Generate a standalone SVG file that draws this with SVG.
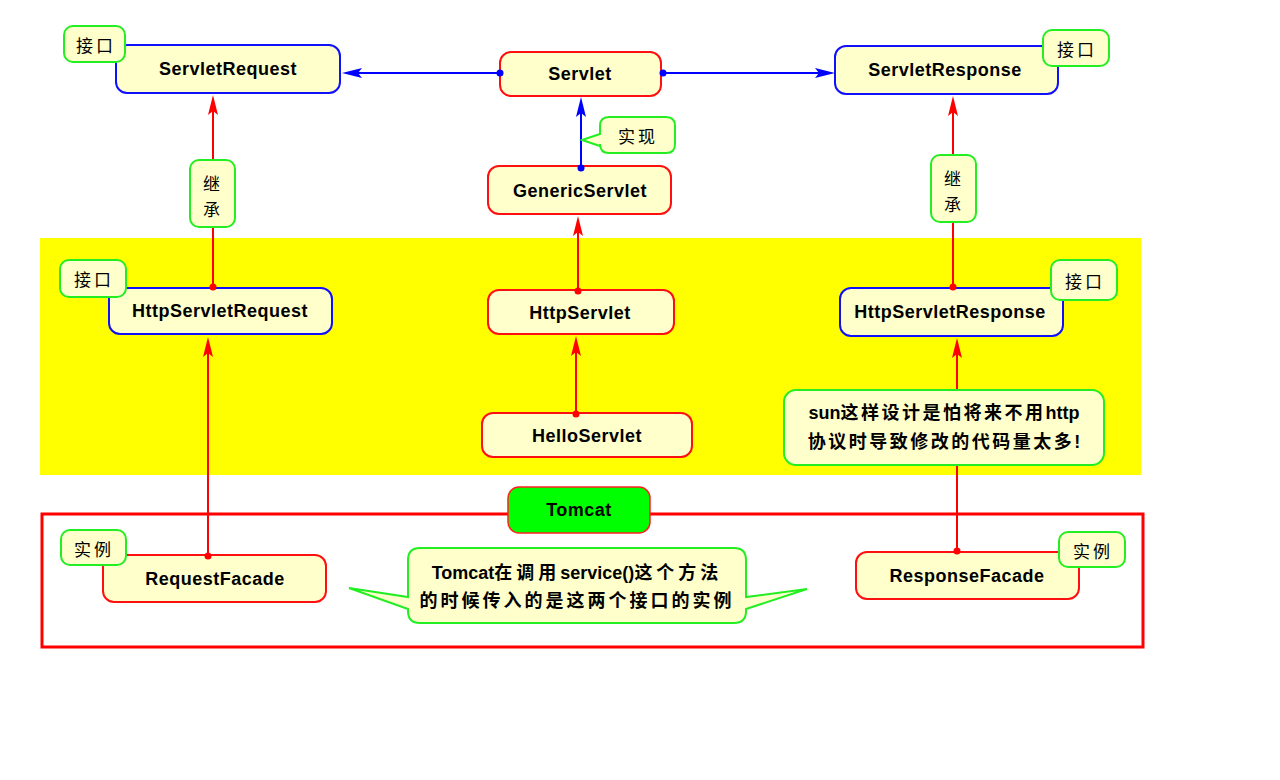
<svg xmlns="http://www.w3.org/2000/svg" width="1280" height="780" viewBox="0 0 1280 780">
<style>
.node{fill:#ffffcc;stroke-width:2}
.blue{stroke:#1010ff}
.red{stroke:#ff1010}
.lbl{fill:#ffffcc;stroke:#22ee22;stroke-width:2}
.t{font-family:"Liberation Sans","Noto Sans CJK SC",sans-serif;font-weight:bold;font-size:18px;letter-spacing:0.5px;fill:#000;text-anchor:middle;dominant-baseline:central}
.c{font-family:"Noto Sans CJK SC","Liberation Sans",sans-serif;font-size:17px;letter-spacing:3px;fill:#000;text-anchor:middle;dominant-baseline:central}
.cb{font-family:"Liberation Sans","Noto Sans CJK SC",sans-serif;font-weight:bold;font-size:18px;fill:#000;text-anchor:middle;dominant-baseline:central}
.s2{letter-spacing:2.5px}
.s3{letter-spacing:3px}
.s4{letter-spacing:4px}
.lr{stroke:#ff0000;stroke-width:2;fill:none}
.lb{stroke:#0000ff;stroke-width:2;fill:none}
</style>
<defs>
<marker id="aR" markerUnits="userSpaceOnUse" markerWidth="20" markerHeight="12" viewBox="0 0 20 12" refX="14" refY="6" orient="auto"><path d="M0,1 L20,6 L0,11 L4,6 Z" fill="#ff0000"/></marker>
<marker id="aB" markerUnits="userSpaceOnUse" markerWidth="20" markerHeight="12" viewBox="0 0 20 12" refX="14" refY="6" orient="auto"><path d="M0,1 L20,6 L0,11 L4,6 Z" fill="#0000ff"/></marker>
<marker id="dR" markerUnits="userSpaceOnUse" markerWidth="8" markerHeight="8" viewBox="0 0 8 8" refX="4" refY="4"><circle cx="4" cy="4" r="3.5" fill="#ff0000"/></marker>
<marker id="dB" markerUnits="userSpaceOnUse" markerWidth="8" markerHeight="8" viewBox="0 0 8 8" refX="4" refY="4"><circle cx="4" cy="4" r="3.5" fill="#0000ff"/></marker>
</defs>
<rect width="1280" height="780" fill="#ffffff"/>
<rect id="band" x="40" y="238" width="1101" height="237" fill="#ffff00"/>
<rect id="tomcatFrame" x="42" y="514" width="1101" height="133" fill="none" stroke="#ff0000" stroke-width="3"/>
<g id="ServletRequest"><rect class="node blue" x="116" y="45" width="224" height="48" rx="11"/><text class="t" x="228" y="69">ServletRequest</text></g>
<g id="Servlet"><rect class="node red" x="500" y="52" width="161" height="44" rx="11"/><text class="t" x="580" y="74">Servlet</text></g>
<g id="ServletResponse"><rect class="node blue" x="835" y="46" width="223" height="48" rx="11"/><text class="t" x="945" y="70">ServletResponse</text></g>
<g id="GenericServlet"><rect class="node red" x="488" y="166" width="183" height="48" rx="11"/><text class="t" x="580" y="191">GenericServlet</text></g>
<g id="HttpServletRequest"><rect class="node blue" x="109" y="288" width="223" height="46" rx="11"/><text class="t" x="220" y="311">HttpServletRequest</text></g>
<g id="HttpServlet"><rect class="node red" x="488" y="290" width="186" height="44" rx="11"/><text class="t" x="580" y="313">HttpServlet</text></g>
<g id="HttpServletResponse"><rect class="node blue" x="840" y="288" width="223" height="48" rx="11"/><text class="t" x="950" y="312">HttpServletResponse</text></g>
<g id="HelloServlet"><rect class="node red" x="482" y="413" width="210" height="44" rx="11"/><text class="t" x="587" y="436">HelloServlet</text></g>
<g id="Tomcat"><rect x="508" y="487" width="142" height="46" rx="11" fill="#00ff00" stroke="#ff2020" stroke-width="1.5"/><text class="t" x="579" y="510">Tomcat</text></g>
<g id="RequestFacade"><rect class="node red" x="103" y="555" width="223" height="47" rx="11"/><text class="t" x="215" y="579">RequestFacade</text></g>
<g id="ResponseFacade"><rect class="node red" x="856" y="552" width="223" height="47" rx="11"/><text class="t" x="967" y="576">ResponseFacade</text></g>
<g id="connectors">
<path class="lb" d="M500,73 H348" marker-start="url(#dB)" marker-end="url(#aB)"/>
<path class="lb" d="M663,73 H829" marker-start="url(#dB)" marker-end="url(#aB)"/>
<path class="lb" d="M581,168 V103" marker-start="url(#dB)" marker-end="url(#aB)"/>
<path class="lr" d="M213,287 V101" marker-start="url(#dR)" marker-end="url(#aR)"/>
<path class="lr" d="M953,287 V102" marker-start="url(#dR)" marker-end="url(#aR)"/>
<path class="lr" d="M578,291 V222" marker-start="url(#dR)" marker-end="url(#aR)"/>
<path class="lr" d="M576,414 V342" marker-start="url(#dR)" marker-end="url(#aR)"/>
<path class="lr" d="M208,556 V343" marker-start="url(#dR)" marker-end="url(#aR)"/>
<path class="lr" d="M957,551 V344" marker-start="url(#dR)" marker-end="url(#aR)"/>
</g>
<g id="label-iface-1"><rect class="lbl" x="64" y="26" width="61" height="36" rx="9"/><text class="c" x="96" y="44">接口</text></g>
<g id="label-iface-2"><rect class="lbl" x="1043" y="30" width="66" height="36" rx="9"/><text class="c" x="1077" y="48">接口</text></g>
<g id="label-iface-3"><rect class="lbl" x="60" y="260" width="66" height="37" rx="9"/><text class="c" x="94" y="278">接口</text></g>
<g id="label-iface-4"><rect class="lbl" x="1051" y="260" width="66" height="40" rx="9"/><text class="c" x="1085" y="280">接口</text></g>
<g id="label-inst-1"><rect class="lbl" x="61" y="530" width="65" height="35" rx="9"/><text class="c" x="94" y="548">实例</text></g>
<g id="label-inst-2"><rect class="lbl" x="1059" y="532" width="66" height="35" rx="9"/><text class="c" x="1093" y="550">实例</text></g>
<g id="label-inherit-1"><rect class="lbl" x="190" y="160" width="45" height="67" rx="9"/><text class="c" x="213" y="182">继</text><text class="c" x="213" y="208">承</text></g>
<g id="label-inherit-2"><rect class="lbl" x="931" y="155" width="45" height="67" rx="9"/><text class="c" x="954" y="177">继</text><text class="c" x="954" y="203">承</text></g>
<g id="label-impl"><path class="lbl" d="M609,117 H666 Q675,117 675,126 V144 Q675,153 666,153 H609 Q600,153 600,144 V146 L582,140 L600,134 V126 Q600,117 609,117 Z"/><text class="c" x="638" y="135">实现</text></g>
<g id="note-sun"><rect class="lbl" x="784" y="390" width="320" height="75" rx="12"/><text class="cb" x="944" y="413">sun<tspan class="s2">这样设计是怕将来不用</tspan>http</text><text class="cb" x="944" y="442"><tspan class="s2">协议时导致修改的代码量太多</tspan>!</text></g>
<g id="note-tomcat"><path class="lbl" d="M420,548 H734 Q746,548 746,560 V597 L807,589 L746,609 V611 Q746,623 734,623 H420 Q408,623 408,611 V609 L349,588 L408,597 V560 Q408,548 420,548 Z"/><text class="cb" x="577" y="573">Tomcat<tspan class="s4">在调用</tspan>service()<tspan class="s4">这个方法</tspan></text><text class="cb s3" x="577" y="601">的时候传入的是这两个接口的实例</text></g>
</svg>
